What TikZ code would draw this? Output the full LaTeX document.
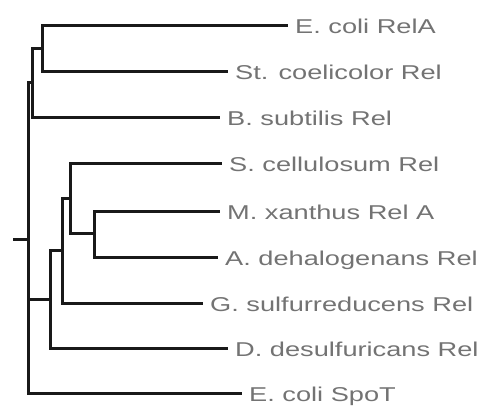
\documentclass[tikz,border=0pt]{standalone}
\usepackage{fontspec}
\setmainfont[FakeStretch=1.36]{Liberation Sans}
\begin{document}
\begin{tikzpicture}[x=1pt,y=-1pt,
  branch/.style={draw=black!90,line width=3pt,line join=miter},
  leaflabel/.style={anchor=base west,inner sep=0pt,xshift=7pt,yshift=-8pt,
    text=black!55,font=\fontsize{20}{24}\selectfont}]
\useasboundingbox (0,0) rectangle (477,405);
% internal nodes
\coordinate (root) at (28,239);
\coordinate (stub) at (13,239);
\coordinate (nA) at (42,48);
\coordinate (nB) at (32,82);
\coordinate (nC) at (94,233);
\coordinate (nD) at (70,198);
\coordinate (nE) at (62,250);
\coordinate (nF) at (50,299);
% leaf ends
\coordinate (lRelA) at (288,25);
\coordinate (lSt) at (228,71);
\coordinate (lBs) at (220,117);
\coordinate (lSc) at (222,163);
\coordinate (lMx) at (220,211);
\coordinate (lAd) at (218,257);
\coordinate (lGs) at (203,303);
\coordinate (lDd) at (228,348);
\coordinate (lSpoT) at (242,393);
% labels
\node[leaflabel] (tRelA) at (lRelA) {E. coli RelA};
\node[leaflabel] (tSt) at (lSt) {St. coelicolor Rel};
\node[leaflabel] (tBs) at (lBs) {B. subtilis Rel};
\node[leaflabel] (tSc) at (lSc) {S. cellulosum Rel};
\node[leaflabel] (tMx) at (lMx) {M. xanthus Rel A};
\node[leaflabel] (tAd) at (lAd) {A. dehalogenans Rel};
\node[leaflabel] (tGs) at (lGs) {G. sulfurreducens Rel};
\node[leaflabel] (tDd) at (lDd) {D. desulfuricans Rel};
\node[leaflabel] (tSpoT) at (lSpoT) {E. coli SpoT};
% branches
\draw[branch] (stub) -- (root);
\draw[branch] (root) |- (nB);
\draw[branch] (root) |- (nF);
\draw[branch] (root) |- (lSpoT);
\draw[branch] (nB) |- (nA);
\draw[branch] (nB) |- (lBs);
\draw[branch] (nA) |- (lRelA);
\draw[branch] (nA) |- (lSt);
\draw[branch] (nF) |- (nE);
\draw[branch] (nF) |- (lDd);
\draw[branch] (nE) |- (nD);
\draw[branch] (nE) |- (lGs);
\draw[branch] (nD) |- (lSc);
\draw[branch] (nD) |- (nC);
\draw[branch] (nC) |- (lMx);
\draw[branch] (nC) |- (lAd);
\end{tikzpicture}
\end{document}
